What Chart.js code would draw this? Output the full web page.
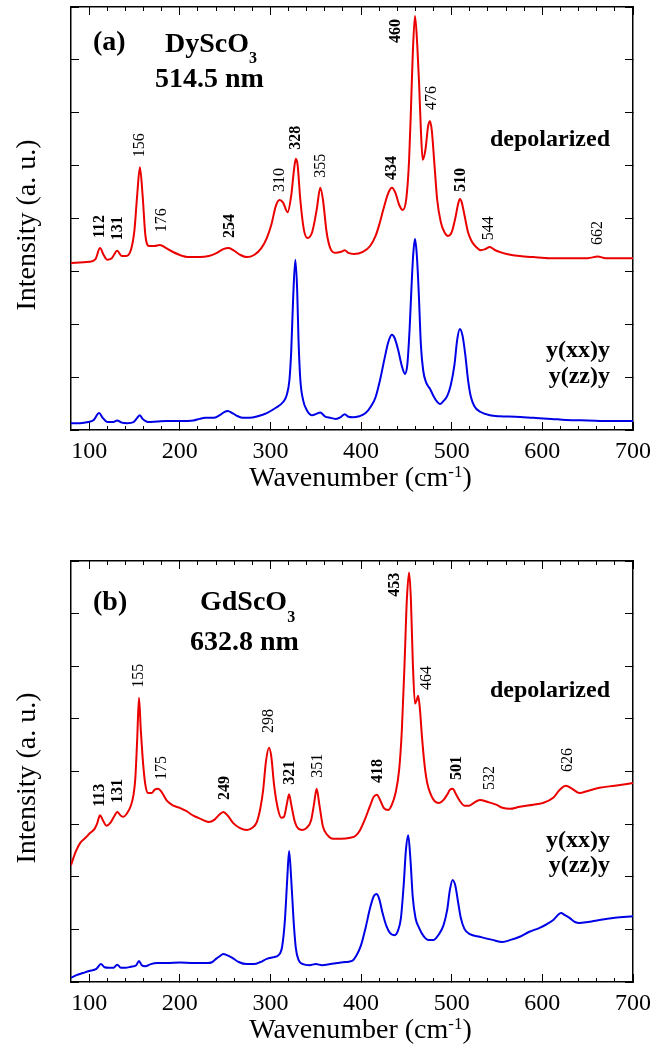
<!DOCTYPE html>
<html><head><meta charset="utf-8">
<script src="https://cdn.jsdelivr.net/npm/chart.js@4.4.1/dist/chart.umd.min.js"></script>
<style>
html,body{margin:0;padding:0;background:#fff;width:666px;height:1052px;overflow:hidden}
.w{position:absolute;left:0;width:666px;height:526px}
canvas{display:block}
</style></head><body>
<div class="w" style="top:0"><canvas id="c1" width="666" height="526"></canvas></div>
<div class="w" style="top:526px"><canvas id="c2" width="666" height="526"></canvas></div>
<script>
const FONT = "'Liberation Serif', 'Times New Roman', serif";
const RED = 'rgb(235,0,0)', BLUE = 'rgb(0,0,230)';

// ---------- shared axis content ----------
const xTickValues = [100, 200, 300, 400, 500, 600, 700];
const xTitleMain = 'Wavenumber (cm', xTitleSup = '-1', xTitleEnd = ')';
const yTitle = 'Intensity (a. u.)';

// ---------- Panel (a) DyScO3, 514.5 nm ----------
const waveA_dep = [80,100,107,112,116,120,125,131,136,140,146,150,153,156,159,162,166,172,178,185,190,200,210,222,232,241,248,254,260,267,274,282,290,296,301,306,310,314,319,323,326,328,330,333,337,341,346,351,355,358,362,366,372,378,382,386,392,402,410,416,420,425,430,434,438,442,446,450,453,455,457,459.5,462,464,466,468,471,474,476,478,481,484,488,492,496,500,504,507,509,511,514,518,522,527,532,537,542,548,556,566,575,590,608,630,650,661,670,685,700];
const intA_dep  = [3.16,3.18,3.23,3.44,3.31,3.22,3.25,3.39,3.29,3.29,3.40,3.78,4.44,4.97,4.44,3.69,3.48,3.48,3.50,3.44,3.39,3.31,3.27,3.27,3.29,3.35,3.42,3.44,3.39,3.31,3.27,3.31,3.44,3.63,3.88,4.24,4.35,4.30,4.12,4.44,4.92,5.13,5.01,4.35,3.78,3.63,3.74,4.16,4.58,4.35,3.74,3.44,3.35,3.37,3.40,3.35,3.33,3.37,3.48,3.67,3.88,4.20,4.48,4.58,4.48,4.26,4.16,4.39,5.11,6.05,7.09,7.83,7.28,6.56,5.67,5.11,5.30,5.75,5.84,5.67,5.01,4.35,3.93,3.74,3.67,3.74,4.01,4.27,4.37,4.31,4.07,3.74,3.57,3.46,3.40,3.42,3.46,3.40,3.35,3.31,3.29,3.27,3.25,3.25,3.25,3.28,3.25,3.25,3.25];
const waveA_pol = [80,90,99,105,111,115,120,126,131,136,142,149,153,156,159,165,175,186,200,215,222,228,237,244,249,253,258,264,270,277,286,296,306,314,318,321,323,325,327.5,329.5,331,333,336,340,346,350,355,360,366,372,378,382,386,391,398,405,411,416,421,426,430,434,437,441,445,448.5,451,453.5,455.5,457.5,459.5,461.5,463.5,466,468.5,472,476,480,484,487,491,495,499,503,506,509,512,515,518,521,525,532,542,553,570,590,610,626,650,675,700];
const intA_pol  = [0.13,0.13,0.15,0.19,0.32,0.23,0.15,0.15,0.18,0.14,0.13,0.15,0.23,0.28,0.21,0.15,0.16,0.17,0.17,0.18,0.21,0.23,0.23,0.28,0.34,0.36,0.32,0.26,0.23,0.23,0.26,0.32,0.42,0.53,0.66,0.95,1.51,2.46,3.22,2.65,1.70,0.95,0.57,0.38,0.28,0.30,0.33,0.26,0.23,0.21,0.25,0.30,0.25,0.24,0.26,0.32,0.45,0.62,0.95,1.36,1.66,1.80,1.74,1.51,1.21,1.06,1.23,1.89,2.65,3.31,3.61,3.31,2.65,1.61,1.13,0.89,0.78,0.64,0.53,0.49,0.55,0.64,0.85,1.23,1.70,1.91,1.78,1.42,0.95,0.64,0.45,0.34,0.28,0.26,0.25,0.23,0.21,0.19,0.18,0.17,0.17];
const peakTextA = ['112','131','156','176','254','310','328','355','434','460','476','510','544','662'];
const peakBoldA = [true,true,false,false,true,false,true,false,true,true,false,true,false,false];
const peakWaveA = [112,131.8,156,180.4,255.4,310.6,328.2,355.8,434.1,438.5,478.2,510.2,541.1,661.4];
const peakIntA  = [3.63,3.59,5.16,3.74,3.63,4.50,5.30,4.77,4.73,7.32,6.05,4.50,3.59,3.50];
const headA = ['(a)', 'DyScO', '3', '514.5 nm'];
const seriesLabelsA = ['depolarized', 'y(xx)y', 'y(zz)y'];

// ---------- Panel (b) GdScO3, 632.8 nm ----------
const waveB_dep = [80,85,90,96,101,106,109,112,115,119,124,128,131,135,138,142,146,149,151,153,155,157,159.5,162,165,169,172,176,180,186,193,200,207,215,223,232,238,243,248,253,259,266,274,280,285,289,292,295,298.4,301,304,308,312,315,318,320.6,323,327,331,335,340,345,348,351,354,358,363,369,378,388,394,399,404,410,414,417.5,421,425,430,434,438,442,445,448,450.5,453,455,457,459.5,461.5,463,465,467,470,473,477,481,486,491,495,498,501,505,509,514,519,524,531,540,549,556,564,575,590,600,612,619,626,633,641,650,663,680,700];
const intB_dep  = [2.22,2.47,2.64,2.74,2.83,2.91,3.02,3.17,3.08,2.97,3.04,3.16,3.23,3.16,3.14,3.21,3.35,3.56,3.88,4.60,5.40,4.79,4.16,3.75,3.59,3.59,3.65,3.67,3.61,3.44,3.35,3.31,3.25,3.16,3.10,3.04,3.08,3.17,3.23,3.16,3.02,2.93,2.89,2.93,3.04,3.31,3.65,4.18,4.45,4.28,3.75,3.31,3.12,3.14,3.37,3.57,3.37,3.04,2.91,2.89,2.93,3.08,3.37,3.67,3.37,2.95,2.79,2.72,2.72,2.74,2.78,2.89,3.08,3.35,3.52,3.56,3.46,3.31,3.27,3.37,3.59,4.03,4.79,6.06,7.26,7.78,7.26,6.12,5.29,5.36,5.44,5.17,4.70,4.13,3.78,3.56,3.44,3.40,3.46,3.56,3.65,3.67,3.56,3.44,3.35,3.35,3.40,3.46,3.42,3.37,3.31,3.29,3.33,3.37,3.40,3.50,3.65,3.73,3.67,3.59,3.63,3.69,3.73,3.78];
const waveB_pol = [80,86,93,100,108,113,117,122,127,131,135,140,146,152,155,158,162,168,175,186,200,215,230,236,240,244,248,252,258,265,274,282,289,296,303,309,313,316,318.5,320.6,323,325.5,328,331,336,343,350,357,366,374,383,390,395,400,405,410,414,417,420,424,428,432,437,441,444,447,449.5,452,454.5,457,460,464,469,474,480,486,491,495,498,501,504,507,510,514,520,531,545,556,565,575,585,597,605,612,617,620.5,625,630,636,641,650,663,680,700];
const intB_pol  = [0.08,0.13,0.17,0.21,0.25,0.34,0.28,0.27,0.27,0.33,0.27,0.27,0.29,0.32,0.40,0.32,0.30,0.34,0.36,0.36,0.37,0.36,0.36,0.38,0.44,0.49,0.53,0.51,0.46,0.38,0.34,0.34,0.38,0.44,0.47,0.51,0.68,1.18,1.94,2.49,1.94,1.18,0.65,0.42,0.34,0.32,0.34,0.32,0.34,0.36,0.38,0.40,0.51,0.70,1.03,1.41,1.63,1.67,1.58,1.29,1.06,0.93,0.89,0.99,1.22,1.84,2.51,2.79,2.32,1.62,1.22,1.03,0.87,0.80,0.80,0.91,1.08,1.37,1.75,1.94,1.83,1.52,1.22,1.01,0.91,0.86,0.80,0.76,0.80,0.86,0.95,1.03,1.10,1.18,1.27,1.31,1.27,1.22,1.14,1.12,1.14,1.18,1.22,1.25];
const peakTextB = ['113','131','155','175','249','298','321','351','418','453','464','501','532','626'];
const peakBoldB = [true,true,false,false,true,false,true,false,true,true,false,true,false,false];
const peakWaveB = [112,131.8,155,180.4,249.9,298.4,321.6,352.5,418.7,437.4,472.7,505.8,542.2,628.3];
const peakIntB  = [3.33,3.40,5.59,3.84,3.46,4.73,3.75,3.88,3.78,7.32,5.55,3.84,3.65,3.99];
const headB = ['(b)', 'GdScO', '3', '632.8 nm'];
const seriesLabelsB = ['depolarized', 'y(xx)y', 'y(zz)y'];

function pts(w, v) { return w.map((x, i) => ({x: x, y: v[i]})); }

const annotPlugin = {
  id: 'annot',
  afterDraw(chart, args, o) {
    const ctx = chart.ctx, ca = chart.chartArea;
    const xs = chart.scales.x, ys = chart.scales.y;
    ctx.save();
    ctx.fillStyle = '#000';
    o.peakText.forEach((t, i) => {
      const px = xs.getPixelForValue(o.peakWave[i]), py = ys.getPixelForValue(o.peakInt[i]);
      ctx.save();
      ctx.translate(px, py);
      ctx.rotate(-Math.PI / 2);
      ctx.font = (o.peakBold[i] ? 'bold ' : '') + '16px ' + FONT;
      ctx.textAlign = 'left';
      ctx.textBaseline = 'middle';
      ctx.fillText(t, 0, 0);
      ctx.restore();
    });
    o.labels.forEach(l => {
      let w = 0;
      l.parts.forEach(p => { ctx.font = 'bold ' + p.size + 'px ' + FONT; w += ctx.measureText(p.t).width; });
      let x = ca.left + l.x - (l.align === 'right' ? w : 0);
      const y = ca.top + l.y;
      ctx.textAlign = 'left'; ctx.textBaseline = 'alphabetic';
      l.parts.forEach(p => {
        ctx.font = 'bold ' + p.size + 'px ' + FONT;
        ctx.fillText(p.t, x, y + (p.dy || 0));
        x += ctx.measureText(p.t).width;
      });
    });
    ctx.save();
    ctx.translate(35, (ca.top + ca.bottom) / 2 + 6.5);
    ctx.rotate(-Math.PI / 2);
    ctx.font = '28px ' + FONT;
    ctx.textAlign = 'center'; ctx.textBaseline = 'alphabetic';
    ctx.fillText(yTitle, 0, 0);
    ctx.restore();
    const big = '28px ' + FONT, small = '17px ' + FONT;
    ctx.font = big; const w1 = ctx.measureText(xTitleMain).width, w3 = ctx.measureText(xTitleEnd).width;
    ctx.font = small; const w2 = ctx.measureText(xTitleSup).width;
    let x = 360.5 - (w1 + w2 + w3) / 2;
    const yb = ca.bottom + 56;
    ctx.textAlign = 'left'; ctx.textBaseline = 'alphabetic';
    ctx.font = big; ctx.fillText(xTitleMain, x, yb); x += w1;
    ctx.font = small; ctx.fillText(xTitleSup, x, yb - 9); x += w2;
    ctx.font = big; ctx.fillText(xTitleEnd, x, yb);
    ctx.restore();
  }
};

function tickGrid(len) {
  return {display: true, drawOnChartArea: false, drawTicks: true, tickLength: -len, tickColor: '#000', tickWidth: 1, color: '#000', lineWidth: 1};
}

function makeChart(id, p) {
  const xc = {type: 'linear', min: 80, max: 700};
  const majorTicks = s => { s.ticks = xTickValues.map(v => ({value: v})); };
  const minorTicks = s => { s.ticks = s.ticks.filter(t => t.value % 100 !== 0 && t.value > 80 && t.value < 700); };
  const zeroH = s => { s.height = 0; };
  const border = {display: true, color: '#000', width: 1.5};
  return new Chart(document.getElementById(id), {
    type: 'line',
    data: {
      datasets: [
        {data: pts(p.wDep, p.iDep), borderColor: RED, borderWidth: 2, pointRadius: 0, cubicInterpolationMode: 'monotone', fill: false},
        {data: pts(p.wPol, p.iPol), borderColor: BLUE, borderWidth: 2, pointRadius: 0, cubicInterpolationMode: 'monotone', fill: false}
      ]
    },
    options: {
      responsive: false, animation: false, devicePixelRatio: 1,
      layout: {padding: {top: p.top, right: 33, left: 0, bottom: 0}},
      plugins: {
        legend: {display: false}, tooltip: {enabled: false},
        annot: {peakText: p.peakText, peakBold: p.peakBold, peakWave: p.peakWave, peakInt: p.peakInt, labels: p.labels}
      },
      scales: {
        x: Object.assign({}, xc, {position: 'bottom', weight: 10,
          ticks: {stepSize: 100, autoSkip: false, maxRotation: 0, minRotation: 0, padding: -1, color: '#000', font: {family: FONT, size: 24}},
          afterBuildTicks: majorTicks, grid: {display: false}, border: {display: false},
          afterFit: s => { s.height = p.bottomH; }}),
        xMajB: Object.assign({}, xc, {position: 'bottom', weight: 0, ticks: {display: false, stepSize: 100},
          afterBuildTicks: majorTicks, grid: tickGrid(8), border: border, afterFit: zeroH}),
        xMinB: Object.assign({}, xc, {position: 'bottom', weight: 0, ticks: {display: false, stepSize: 20},
          afterBuildTicks: minorTicks, grid: tickGrid(4), border: {display: false}, afterFit: zeroH}),
        xMajT: Object.assign({}, xc, {position: 'top', weight: 0, ticks: {display: false, stepSize: 100},
          afterBuildTicks: majorTicks, grid: tickGrid(8), border: border, afterFit: zeroH}),
        xMinT: Object.assign({}, xc, {position: 'top', weight: 0, ticks: {display: false, stepSize: 20},
          afterBuildTicks: minorTicks, grid: tickGrid(4), border: {display: false}, afterFit: zeroH}),
        y: {type: 'linear', min: 0, max: 8, position: 'left', ticks: {display: false, stepSize: 1},
          grid: tickGrid(8), border: border, afterFit: s => { s.width = 71; }},
        yR: {type: 'linear', min: 0, max: 8, position: 'right', ticks: {display: false, stepSize: 1},
          grid: tickGrid(8), border: border, afterFit: s => { s.width = 0; }}
      }
    },
    plugins: [annotPlugin]
  });
}

makeChart('c1', {
  top: 7, bottomH: 96,
  wDep: waveA_dep, iDep: intA_dep, wPol: waveA_pol, iPol: intA_pol,
  peakText: peakTextA, peakBold: peakBoldA, peakWave: peakWaveA, peakInt: peakIntA,
  labels: [
    {parts: [{t: headA[0], size: 28}], x: 22, y: 43},
    {parts: [{t: headA[1], size: 28}, {t: headA[2], size: 16, dy: 11}], x: 94, y: 45},
    {parts: [{t: headA[3], size: 28}], x: 84, y: 80},
    {parts: [{t: seriesLabelsA[0], size: 24}], x: 539, y: 139, align: 'right'},
    {parts: [{t: seriesLabelsA[1], size: 24}], x: 539, y: 350, align: 'right'},
    {parts: [{t: seriesLabelsA[2], size: 24}], x: 539, y: 376, align: 'right'}
  ]
});

makeChart('c2', {
  top: 35, bottomH: 70,
  wDep: waveB_dep, iDep: intB_dep, wPol: waveB_pol, iPol: intB_pol,
  peakText: peakTextB, peakBold: peakBoldB, peakWave: peakWaveB, peakInt: peakIntB,
  labels: [
    {parts: [{t: headB[0], size: 28}], x: 22, y: 49},
    {parts: [{t: headB[1], size: 28}, {t: headB[2], size: 16, dy: 12}], x: 129, y: 49},
    {parts: [{t: headB[3], size: 28}], x: 119, y: 89},
    {parts: [{t: seriesLabelsB[0], size: 24}], x: 539, y: 136, align: 'right'},
    {parts: [{t: seriesLabelsB[1], size: 24}], x: 539, y: 286, align: 'right'},
    {parts: [{t: seriesLabelsB[2], size: 24}], x: 539, y: 311, align: 'right'}
  ]
});
</script>
</body></html>
